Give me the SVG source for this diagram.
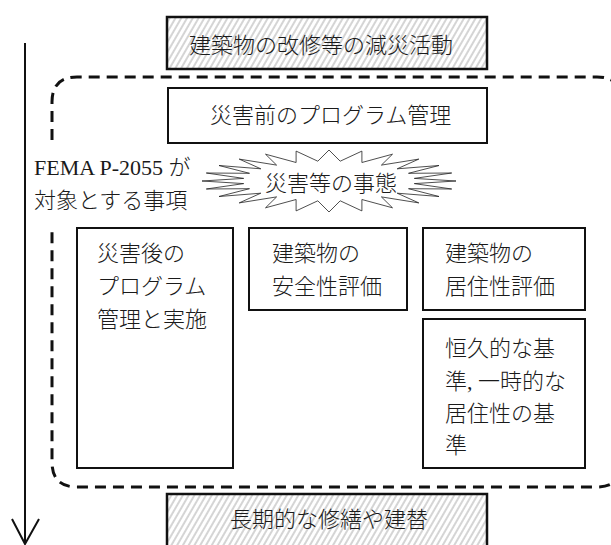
<svg xmlns="http://www.w3.org/2000/svg" width="611" height="545" viewBox="0 0 611 545">
  <style>
    .t { font-family: "Liberation Serif", "Noto Sans CJK JP", serif; font-size: 22px; fill: #1a1a1a; font-weight: 300; }
    .box { fill: #fff; stroke: #111; stroke-width: 2; }
    .hbox { fill: url(#hatch); stroke: #111; stroke-width: 2.5; }
    .dash { fill: none; stroke: #111; stroke-width: 3; stroke-dasharray: 11 7; }
    .arrow { fill: none; stroke: #111; stroke-width: 2; }
  </style>
  <defs>
    <pattern id="hatch" width="5" height="10" patternUnits="userSpaceOnUse" patternTransform="rotate(30)">
      <rect width="5" height="10" fill="#fff"/>
      <line x1="1" y1="0" x2="1" y2="10" stroke="#a0a0a0" stroke-width="0.9"/>
    </pattern>
  </defs>
  <rect width="611" height="545" fill="#fff"/>

  <g id="connectors">
    <path class="arrow" d="M25,43 V544"/>
    <path class="arrow" d="M12,519 L25,544 L39,519"/>
  </g>

  <g id="scope">
    <path class="dash" d="M52,140 V102 Q52,77 77,77 H597 Q622,77 622,102 V462 Q622,487 597,487 H77 Q52,487 52,462 V228"/>
  </g>

  <g id="mitigation">
    <rect class="hbox" x="167" y="17" width="320" height="52"/>
    <text class="t" x="189" y="53">建築物の改修等の減災活動</text>
  </g>

  <g id="pre-disaster">
    <rect class="box" x="168" y="88" width="319" height="55"/>
    <text class="t" x="210" y="123">災害前のプログラム管理</text>
  </g>

  <g id="fema-label">
    <text class="t" x="34" y="175">FEMA P-2055 が</text>
    <text class="t" x="34" y="208">対象とする事項</text>
  </g>

  <g id="event">
    <polygon fill="#fff" stroke="#222" stroke-width="0.8" points="456,181 414.3,178.4 451.7,173 408.5,173.3 439,165.5 397.2,168.8 418.8,159.1 381.4,165.1 392.5,154.2 361.9,162.5 361.9,151.1 340.2,161.2 329,150 317.8,161.2 296.1,151.1 296.1,162.5 265.5,154.2 276.6,165.1 239.2,159.1 260.8,168.8 219,165.5 249.5,173.3 206.3,173 243.7,178.4 202,181 243.7,183.6 206.3,189 249.5,188.7 219,196.5 260.8,193.2 239.2,202.9 276.6,196.9 265.5,207.8 296.1,199.5 296.1,210.9 317.8,200.8 329,212 340.2,200.8 361.9,210.9 361.9,199.5 392.5,207.8 381.4,196.9 418.8,202.9 397.2,193.2 439,196.5 408.5,188.7 451.7,189 414.3,183.6"/>
    <text class="t" x="265" y="191">災害等の事態</text>
  </g>

  <g id="post-disaster">
    <rect class="box" x="77" y="228" width="156" height="240"/>
    <text class="t" x="97" y="261">災害後の</text>
    <text class="t" x="97" y="294">プログラム</text>
    <text class="t" x="97" y="327">管理と実施</text>
  </g>

  <g id="safety">
    <rect class="box" x="249" y="228" width="158" height="82"/>
    <text class="t" x="272" y="261">建築物の</text>
    <text class="t" x="272" y="294">安全性評価</text>
  </g>

  <g id="habitability">
    <rect class="box" x="423" y="228" width="162" height="82"/>
    <text class="t" x="445" y="261">建築物の</text>
    <text class="t" x="445" y="294">居住性評価</text>
  </g>

  <g id="standards">
    <rect class="box" x="423" y="319" width="162" height="149"/>
    <text class="t" x="445" y="356">恒久的な基</text>
    <text class="t" x="445" y="389">準, 一時的な</text>
    <text class="t" x="445" y="421">居住性の基</text>
    <text class="t" x="445" y="453">準</text>
  </g>

  <g id="long-term">
    <rect class="hbox" x="167" y="494" width="320" height="60"/>
    <text class="t" x="230" y="527">長期的な修繕や建替</text>
  </g>
</svg>
